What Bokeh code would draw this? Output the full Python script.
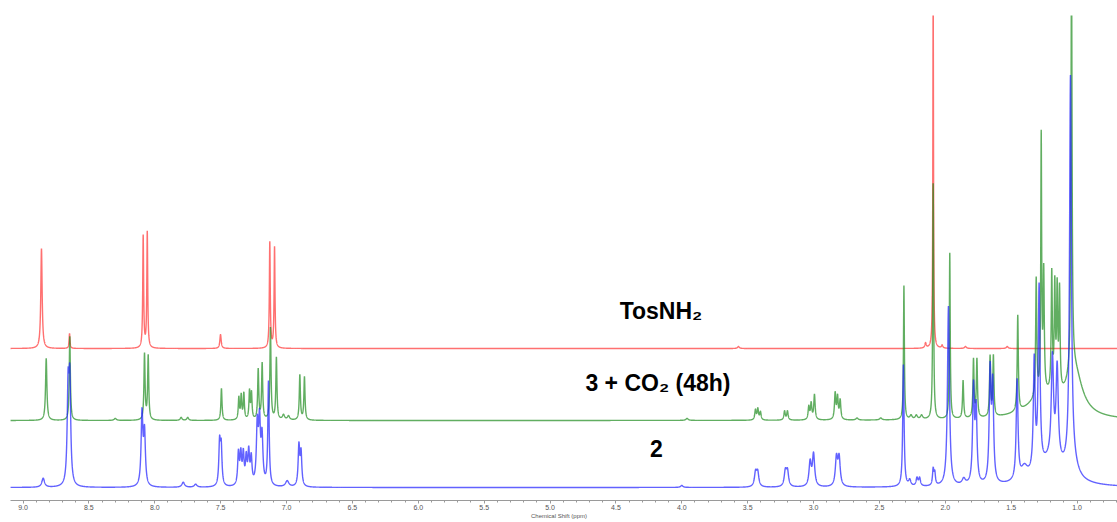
import numpy as np
from bokeh.plotting import figure
from bokeh.models import Range1d, SingleIntervalTicker, ColumnDataSource, NumeralTickFormatter
from bokeh.core.properties import value
from bokeh.embed import file_html
from bokeh.resources import INLINE

# ---- data: peak lists (ppm, height, half-width in ppm) ----
red_ppm = [8.860, 8.647, 8.088, 8.057, 7.501, 7.127, 7.091, 3.570, 2.150, 2.092, 2.024, 1.847, 1.530]
red_h   = [100, 15, 112, 116, 14, 106, 101, 2, 5, 360, 3, 2, 2]
red_w   = [0.006, 0.004, 0.004, 0.004, 0.006, 0.004, 0.004, 0.008, 0.006, 0.003, 0.006, 0.008, 0.008]

green_ppm = [8.824, 8.645, 8.078, 8.050, 8.30, 7.80, 7.75, 7.494,
             7.362, 7.344, 7.324, 7.281, 7.266, 7.215, 7.185, 7.122, 7.077, 7.023, 6.985, 6.899, 6.864,
             3.96, 3.441, 3.423, 3.403, 3.220, 3.198, 3.036, 3.018, 2.993, 2.836, 2.818, 2.798, 2.67, 2.49,
             2.314, 2.26, 2.22, 2.18, 2.092, 1.966, 1.865, 1.786, 1.760, 1.660, 1.635, 1.450,
             1.310, 1.272, 1.253, 1.192, 1.169, 1.151, 1.133, 1.042, 1.25, 1.02]
green_h   = [62, 84, 66, 64, 2, 3, 3, 32,
             22, 24, 26, 28, 26, 50, 56, 92, 62, 5, 4, 45, 43,
             2, 10, 11, 8, 9, 9, 13, 16, 25, 26, 22, 19, 2, 2,
             134, 4, 4, 4, 236, 166, 38, 58, 58, 60, 60, 96,
             118, 255, 118, 118, 104, 100, 100, 410, 22, 45]
green_w   = [0.006, 0.005, 0.005, 0.005, 0.01, 0.008, 0.008, 0.005,
             0.005, 0.005, 0.005, 0.005, 0.005, 0.005, 0.005, 0.005, 0.005, 0.01, 0.01, 0.005, 0.005,
             0.01, 0.006, 0.006, 0.006, 0.006, 0.006, 0.006, 0.006, 0.006, 0.006, 0.006, 0.006, 0.01, 0.01,
             0.004, 0.01, 0.01, 0.01, 0.004, 0.004, 0.005, 0.005, 0.005, 0.005, 0.005, 0.005,
             0.005, 0.004, 0.005, 0.005, 0.005, 0.005, 0.005, 0.005, 0.15, 0.07]

blue_ppm = [8.847, 8.658, 8.645, 8.097, 8.078, 7.784, 7.690, 7.508, 7.496,
            7.365, 7.347, 7.328, 7.306, 7.287, 7.268, 7.222, 7.205, 7.186, 7.137, 6.995, 6.906, 6.890,
            4.00, 3.440, 3.424, 3.214, 3.198, 3.026, 3.000, 2.826, 2.806,
            2.318, 2.27, 2.215, 2.195, 2.092, 2.080, 1.976, 1.86, 1.786, 1.766, 1.660, 1.640,
            1.455, 1.40, 1.325, 1.288, 1.187, 1.151, 1.050, 1.20, 1.04]
blue_h   = [9, 92, 98, 72, 52, 5, 3, 42, 38,
            32, 30, 30, 26, 32, 26, 58, 60, 46, 104, 6, 40, 33,
            2, 14, 14, 15, 15, 24, 32, 28, 28,
            122, 6, 8, 8, 16, 12, 180, 6, 95, 72, 110, 95,
            100, 12, 110, 180, 100, 92, 380, 25, 22]
blue_w   = [0.012, 0.008, 0.008, 0.008, 0.008, 0.012, 0.012, 0.007, 0.007,
            0.007, 0.007, 0.007, 0.007, 0.007, 0.007, 0.008, 0.008, 0.008, 0.006, 0.015, 0.007, 0.007,
            0.01, 0.01, 0.01, 0.01, 0.01, 0.01, 0.01, 0.01, 0.01,
            0.006, 0.01, 0.008, 0.008, 0.006, 0.006, 0.009, 0.015, 0.008, 0.008, 0.008, 0.008,
            0.008, 0.03, 0.008, 0.008, 0.01, 0.01, 0.008, 0.12, 0.04]

offsets = {"red": 152, "green": 80, "blue": 13}

label_text = ["TosNH\u2082", "3 + CO\u2082 (48h)", "2"]
label_ppm  = [4.158, 4.181, 4.192]
label_y    = [190, 118, 52]

ppm_frame_left, ppm_frame_right = 9.171, 0.693
ppm_data_left = 9.095

# ---- build traces ----
grid = np.arange(ppm_frame_right, ppm_data_left, 0.0005)

def trace(ppm, h, w, base):
    y = np.full(grid.shape, float(base))
    for c, a, g in zip(ppm, h, w):
        y += a * g * g / (g * g + (grid - c) ** 2)
    return y

p = figure(width=1117, height=522, output_backend="svg", toolbar_location=None,
           x_range=Range1d(ppm_frame_left, ppm_frame_right), y_range=Range1d(0, 485),
           min_border_left=0, min_border_right=0, min_border_top=15, min_border_bottom=22)
p.outline_line_color = None
p.xgrid.visible = False
p.ygrid.visible = False
p.yaxis.visible = False
p.background_fill_color = "white"

p.line(grid, trace(red_ppm, red_h, red_w, offsets["red"]), line_color="#ff4040", line_alpha=0.75, line_width=1.4)
p.line(grid, trace(green_ppm, green_h, green_w, offsets["green"]), line_color="#1e8c1e", line_alpha=0.7, line_width=1.4)
p.line(grid, trace(blue_ppm, blue_h, blue_w, offsets["blue"]), line_color="#2020ff", line_alpha=0.7, line_width=1.4)

src = ColumnDataSource(dict(x=label_ppm, y=label_y, t=label_text))
p.text(x="x", y="y", text="t", source=src, text_font=value("Liberation Sans"),
       text_font_style="bold", text_font_size="23px", text_align="center",
       text_baseline="alphabetic", text_color="black")

ax = p.xaxis[0]
ax.bounds = (ppm_frame_right, ppm_data_left)
ax.ticker = SingleIntervalTicker(interval=0.5, num_minor_ticks=5)
ax.formatter = NumeralTickFormatter(format="0.0")
ax.axis_label = "Chemical Shift (ppm)"
ax.axis_label_text_font = "Liberation Sans"
ax.axis_label_text_font_size = "6px"
ax.axis_label_text_font_style = "normal"
ax.axis_label_text_color = "#555555"
ax.axis_label_standoff = 0
ax.major_label_text_font = "Liberation Sans"
ax.major_label_text_font_size = "7px"
ax.major_label_text_color = "#555555"
ax.major_label_standoff = 1
ax.axis_line_color = "#9a9a9a"
ax.major_tick_line_color = "#9a9a9a"
ax.minor_tick_line_color = "#9a9a9a"
ax.major_tick_in = 0
ax.major_tick_out = 3
ax.minor_tick_in = 0
ax.minor_tick_out = 2

open("out.html", "w").write(file_html(p, INLINE))
